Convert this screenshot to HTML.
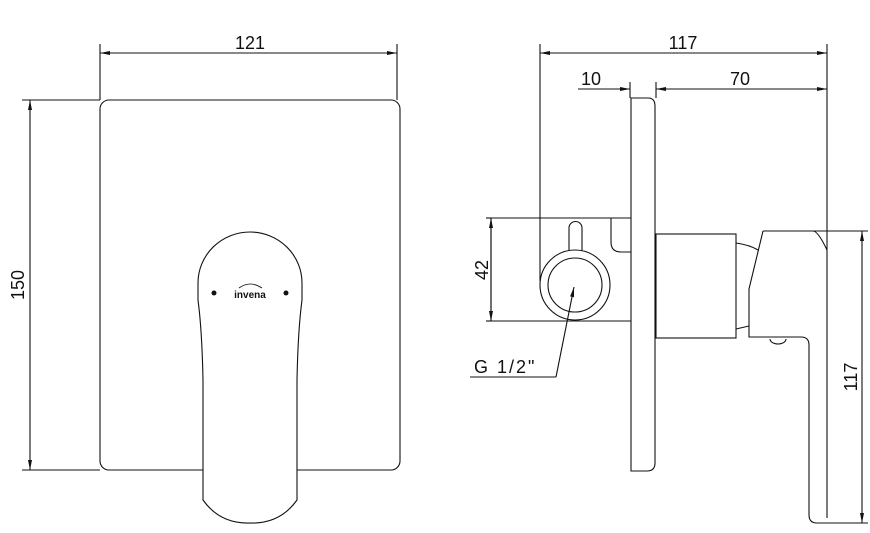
<!DOCTYPE html>
<html><head><style>body{margin:0;background:#fff}svg{display:block}text{font-family:"Liberation Sans",sans-serif;fill:#111}</style></head><body>
<svg width="870" height="533" viewBox="0 0 870 533" fill="none" stroke="#111" stroke-width="1.1">
<defs><marker id="a" viewBox="0 0 10 4" refX="10" refY="2" markerWidth="14" markerHeight="4" markerUnits="userSpaceOnUse" orient="auto-start-reverse"><path d="M0,0L10,2L0,4z" fill="#111" stroke="none"/></marker></defs>
<!-- left view -->
<rect x="100" y="100" width="300" height="370" rx="9"/>
<line x1="100" y1="44" x2="100" y2="100"/><line x1="397" y1="44" x2="397" y2="100"/>
<line x1="100" y1="53" x2="397" y2="53" marker-start="url(#a)" marker-end="url(#a)"/>
<text x="250" y="49" font-size="18" text-anchor="middle" stroke="none">121</text>
<line x1="22" y1="100" x2="100" y2="100"/><line x1="22" y1="470" x2="100" y2="470"/>
<line x1="30" y1="100" x2="30" y2="470" marker-start="url(#a)" marker-end="url(#a)"/>
<text transform="translate(24,285) rotate(-90)" font-size="18" text-anchor="middle" stroke="none">150</text>
<path d="M198,283 A52,51 0 0 1 302,283 L302,300 Q298,330 297,380 L297,500 Q280,524 250,523 Q220,524 203,500 L203,380 Q202,330 198,300 Z" fill="#fff"/>
<circle cx="214" cy="293" r="2.5" fill="#111" stroke="none"/><circle cx="286" cy="293" r="2.5" fill="#111" stroke="none"/>
<text x="250" y="298" font-size="10" font-weight="bold" text-anchor="middle" stroke="none">invena</text>
<path d="M239,288 Q250,280 262,288" stroke-width="0.8"/>
<!-- right view -->
<line x1="540" y1="44" x2="540" y2="281"/><line x1="827" y1="44" x2="827" y2="518"/>
<line x1="540" y1="53" x2="827" y2="53" marker-start="url(#a)" marker-end="url(#a)"/>
<text x="683" y="49" font-size="18" text-anchor="middle" stroke="none">117</text>
<line x1="578" y1="89" x2="630" y2="89" marker-end="url(#a)"/>
<text x="591" y="85" font-size="18" text-anchor="middle" stroke="none">10</text>
<line x1="656" y1="89" x2="827" y2="89" marker-start="url(#a)" marker-end="url(#a)"/>
<text x="740" y="85" font-size="18" text-anchor="middle" stroke="none">70</text>
<line x1="630" y1="82" x2="630" y2="98"/><line x1="656" y1="82" x2="656" y2="98"/>
<path d="M631,98 L648,98 Q655,98 655,106 L655,463 Q655,471 647,471 L631,471 Z" fill="#fff"/>
<path d="M631,218 L491,218 L491,321 L631,321"/>
<path d="M611,218 L611,242 Q611,252 621,252 L631,252"/>
<circle cx="575" cy="285" r="35" fill="#fff"/><circle cx="575" cy="285" r="27"/>
<path d="M569,251 L569,228 A6.5,6.5 0 0 1 582,228 L582,251"/>
<line x1="491" y1="218" x2="491" y2="321" marker-start="url(#a)" marker-end="url(#a)"/>
<line x1="486" y1="218" x2="491" y2="218"/><line x1="486" y1="321" x2="491" y2="321"/>
<text transform="translate(488,270) rotate(-90)" font-size="18" text-anchor="middle" stroke="none">42</text>
<line x1="556" y1="377" x2="574" y2="287" marker-end="url(#a)"/>
<line x1="470" y1="377" x2="556" y2="377"/>
<text x="474" y="373" font-size="18" stroke="none" letter-spacing="2">G 1/2"</text>
<rect x="656" y="234" width="80" height="104" fill="#fff"/>
<path d="M736,243 Q750,245 758,250"/><path d="M736,329 L749,326"/>
<path d="M763,231 L813,231 Q818,231 827,250"/>
<path d="M763,231 L749,289 L749,337 L801,337 Q809,337 809,345 L809,515 Q809,523 817,523 L826,523"/>
<path d="M770,339 A8,5 0 0 0 786,339"/>
<line x1="813" y1="231" x2="868" y2="231"/><line x1="820" y1="523" x2="868" y2="523"/>
<line x1="862" y1="231" x2="862" y2="523" marker-start="url(#a)" marker-end="url(#a)"/>
<text transform="translate(857,377) rotate(-90)" font-size="18" text-anchor="middle" stroke="none">117</text>
</svg>
</body></html>
